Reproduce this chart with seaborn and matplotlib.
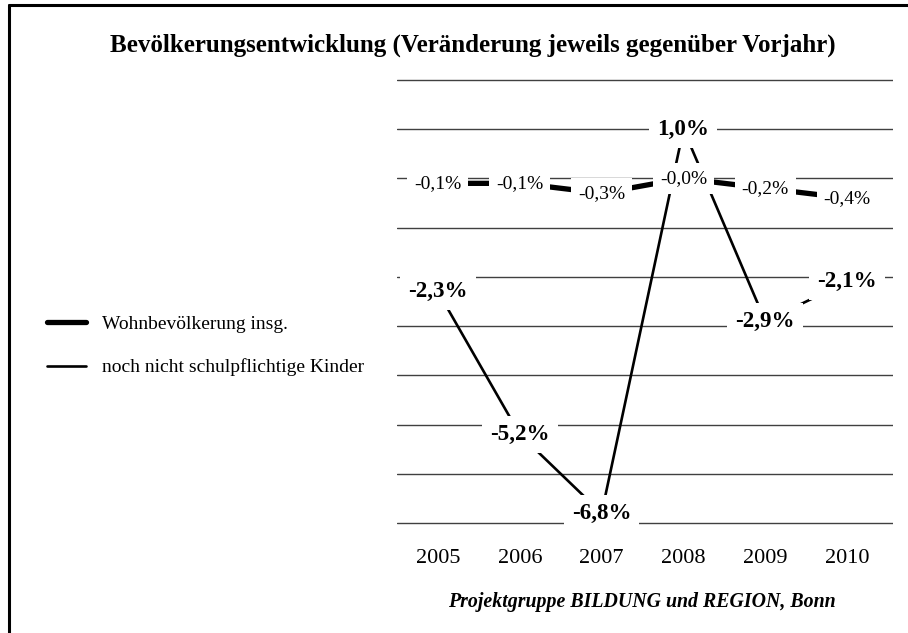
import pandas as pd
import matplotlib.pyplot as plt
import seaborn as sns
from matplotlib.lines import Line2D

years = ['2005', '2006', '2007', '2008', '2009', '2010']
wohn = [-0.1, -0.1, -0.3, -0.0, -0.2, -0.4]
kinder = [-2.3, -5.2, -6.8, 1.0, -2.9, -2.1]

sns.set_theme(style='white')
plt.rcParams['font.family'] = ['Liberation Serif', 'DejaVu Serif']
plt.rcParams['text.color'] = 'black'
plt.rcParams['xtick.color'] = 'black'

df = pd.DataFrame({'Jahr': years, 'wohn': wohn, 'kinder': kinder})

fig = plt.figure(figsize=(9.08, 6.33), dpi=100)
ax = fig.add_axes([397 / 908, 1 - 525 / 633, 496 / 908, 447 / 633])

sns.lineplot(data=df, x='Jahr', y='wohn', ax=ax, color='black', linewidth=3.8,
             sort=False, zorder=2, label='Wohnbevölkerung insg.')
sns.lineplot(data=df, x='Jahr', y='kinder', ax=ax, color='black', linewidth=1.9,
             sort=False, zorder=2, label='noch nicht schulpflichtige Kinder')

ax.set_ylim(-7.04, 2.04)
ax.set_xlim(-0.5, 5.56)
ax.set_yticks(range(-7, 3))
ax.yaxis.grid(True, color='#404040', linewidth=1)
ax.set_axisbelow(True)
ax.tick_params(axis='y', left=False, labelleft=False)
ax.tick_params(axis='x', length=0, pad=17, labelsize=16)
ax.set_xlabel('')
ax.set_ylabel('')
for s in ax.spines.values():
    s.set_visible(False)


def fmt(v):
    return f'{v:.1f}%'.replace('.', ',')


box = dict(facecolor='white', edgecolor='none', boxstyle='square,pad=0.35')
for i, v in enumerate(wohn):
    ax.text(i, v, fmt(v), ha='center', va='center', fontsize=14,
            bbox=box, zorder=3)
for i, v in enumerate(kinder):
    ax.text(i, v, fmt(v), ha='center', va='center', fontsize=16.6,
            fontweight='bold', bbox=box, zorder=3)

ax.legend(loc='center left', bbox_to_anchor=(29 / 908, 1 - 346 / 633),
          bbox_transform=fig.transFigure, frameon=False, fontsize=14,
          handlelength=2.05, handletextpad=0.8, labelspacing=1.3)

fig.text(473 / 908, 1 - 45 / 633,
         'Bevölkerungsentwicklung (Veränderung jeweils gegenüber Vorjahr)',
         ha='center', va='center', fontsize=18, fontweight='bold')
fig.text(642 / 908, 1 - 602 / 633, 'Projektgruppe BILDUNG und REGION, Bonn',
         ha='center', va='center', fontsize=14.3, fontweight='bold',
         fontstyle='italic')

# Rahmen links und oben
fig.add_artist(Line2D([8.5 / 908, 8.5 / 908], [0, 1 - 5 / 633],
                      transform=fig.transFigure, color='black', linewidth=2.2))
fig.add_artist(Line2D([8.5 / 908, 1], [1 - 5 / 633, 1 - 5 / 633],
                      transform=fig.transFigure, color='black', linewidth=2.2))

fig.savefig('out.png', dpi=100, facecolor='white')
